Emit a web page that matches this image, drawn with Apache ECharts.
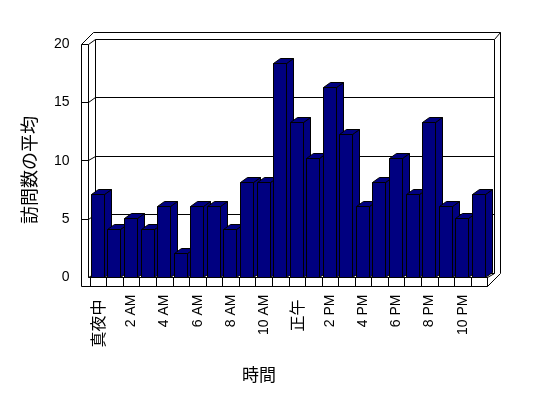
<!DOCTYPE html>
<html>
<head>
<meta charset="utf-8">
<script src="https://cdn.jsdelivr.net/npm/echarts@6/dist/echarts.min.js"></script>
<style>
  html, body { margin: 0; padding: 0; background: #fff; }
  #chart { width: 548px; height: 398px; }
</style>
</head>
<body>
<div id="chart"></div>
<script>
// 時間帯ごとの訪問数の平均
const hours = [
  '真夜中', '1 AM', '2 AM', '3 AM', '4 AM', '5 AM', '6 AM', '7 AM', '8 AM', '9 AM', '10 AM', '11 AM',
  '正午', '1 PM', '2 PM', '3 PM', '4 PM', '5 PM', '6 PM', '7 PM', '8 PM', '9 PM', '10 PM', '11 PM'
];
const visits = [7, 4, 5, 4, 6, 2, 6, 6, 4, 8, 8, 18, 13, 10, 16, 12, 6, 8, 10, 7, 13, 6, 5, 7];
const gridLevels = [5, 10, 15];

const FONT = '"Liberation Sans", "Noto Sans CJK JP", sans-serif';
const JP = '"Noto Sans CJK JP", sans-serif';

const chart = echarts.init(document.getElementById('chart'));

// 1px の線をくっきり描くため半ピクセルに合わせる
const snap = v => Math.round(v - 0.5) + 0.5;
const snapPts = pts => pts.map(p => [snap(p[0]), snap(p[1])]);

// 壁と床 (3D風の枠)
function renderFrame(params, api) {
  const cs = params.coordSys;
  const L = cs.x, R = cs.x + cs.width;
  const f = v => api.coord([0, v])[1];
  const Li = L + 7, BL = L + 14, OL = L + 12;
  const BR = R + 6.5, OR = R + 12.5;
  const dY = -4.5;
  const Tf = f(20), FB = f(0), FB2 = FB + 9;
  const BT = Tf + dY, BB = FB + dY, OT = BT - 7.5;
  const lines = [
    [[L, Tf], [L, FB2], [R, FB2], [R, FB]],
    [[L, Tf], [Li, Tf], [Li, FB]],
    [[L, Tf], [OL, OT], [OR, OT], [OR, FB2 - 13]],
    [[R, FB2], [OR, FB2 - 13]],
    [[Li, Tf], [BL, BT], [BR, BT], [OR, OT]],
    [[BL, BT], [BL, BB], [BR, BB], [BR, BT]],
    [[Li, FB], [BL, BB]],
    [[R, FB], [BR, BB]],
    [[Li, FB], [R, FB]]
  ];
  gridLevels.forEach(v => {
    const y = f(v);
    lines.push([[L, y], [Li, y], [BL, y + dY], [BR, y + dY]]);
  });
  return {
    type: 'group',
    children: lines.map(p => ({
      type: 'polyline',
      shape: { points: snapPts(p) },
      style: { stroke: '#000', fill: null, lineWidth: 1 }
    }))
  };
}

// 3D風の棒
function renderBar(params, api) {
  const idx = api.value(0);
  const top = api.coord([idx, api.value(1)]);
  const base = api.coord([idx, 0]);
  const band = api.size([1, 0])[0];
  const x0 = snap(top[0] - band / 2 + 1.4);
  const w = 13, dx = 7, dy = -5;
  const yt = snap(top[1]), yb = snap(base[1]);
  const style = { fill: '#000080', stroke: '#000', lineWidth: 1 };
  return {
    type: 'group',
    children: [
      { type: 'polygon', shape: { points: [[x0 + w, yt], [x0 + w + dx, yt + dy], [x0 + w + dx, yb + dy], [x0 + w, yb]] }, style: style },
      { type: 'polygon', shape: { points: [[x0, yt], [x0 + dx, yt + dy], [x0 + w + dx, yt + dy], [x0 + w, yt]] }, style: style },
      { type: 'rect', shape: { x: x0, y: yt, width: w, height: yb - yt }, style: style }
    ]
  };
}

const option = {
  backgroundColor: '#fff',
  animation: false,
  grid: [
    { left: 90, right: 60.5, top: 39.5, bottom: 120.5 },
    { left: 81.5, right: 60.5, top: 44, bottom: 120.5 }
  ],
  xAxis: [
    {
      type: 'category',
      gridIndex: 0,
      data: hours,
      axisLine: { show: false },
      axisTick: { show: true, interval: 0, length: 9, lineStyle: { color: '#000' } },
      axisLabel: {
        interval: 1,
        rotate: 90,
        margin: 17,
        color: '#000',
        fontSize: 14,
        fontFamily: FONT,
        formatter: v => /[A-Z]/.test(v) ? v : '{j|' + v + '}',
        rich: { j: { fontSize: 16, fontFamily: JP, color: '#000', padding: [0, 5, 0, 0] } }
      },
      splitLine: { show: false }
    },
    {
      type: 'category',
      gridIndex: 1,
      data: hours,
      show: false
    }
  ],
  yAxis: [
    {
      type: 'value',
      gridIndex: 0,
      min: 0,
      max: 20,
      interval: 5,
      show: false
    },
    {
      type: 'value',
      gridIndex: 1,
      min: 0,
      max: 20,
      interval: 5,
      axisLine: { show: false },
      axisTick: { show: false },
      splitLine: { show: false },
      axisLabel: { margin: 12, color: '#000', fontSize: 14, fontFamily: FONT }
    }
  ],
  graphic: [
    {
      type: 'text',
      x: 259,
      y: 375,
      style: { text: '時間', fontSize: 17, fontFamily: JP, fill: '#000', align: 'center', verticalAlign: 'middle' }
    },
    {
      type: 'text',
      x: 29,
      y: 170,
      rotation: Math.PI / 2,
      style: { text: '訪問数の平均', fontSize: 18, fontFamily: JP, fill: '#000', align: 'center', verticalAlign: 'middle' }
    }
  ],
  series: [
    {
      type: 'custom',
      name: 'frame',
      xAxisIndex: 1,
      yAxisIndex: 1,
      silent: true,
      z: 1,
      data: [[0, 0]],
      renderItem: renderFrame
    },
    {
      type: 'custom',
      name: '訪問数の平均',
      xAxisIndex: 0,
      yAxisIndex: 0,
      z: 2,
      data: visits.map((v, i) => [i, v]),
      renderItem: renderBar
    }
  ]
};

chart.setOption(option);
</script>
</body>
</html>
